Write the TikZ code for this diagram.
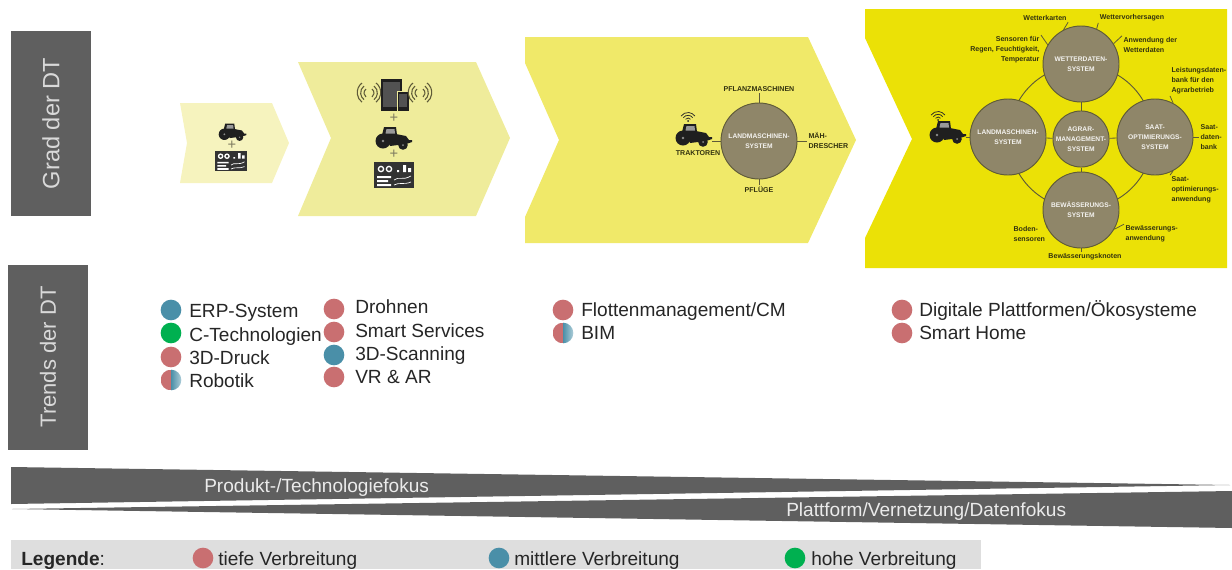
\documentclass[tikz,border=0pt]{standalone}
\usepackage{fontspec}
\setmainfont{Liberation Sans}
\usetikzlibrary{calc}
\definecolor{balken}{HTML}{5F5F5F}
\definecolor{stufeA}{HTML}{F6F3BE}
\definecolor{stufeB}{HTML}{EFEC9B}
\definecolor{stufeC}{HTML}{F0E969}
\definecolor{stufeD}{HTML}{EBE106}
\definecolor{kreis}{HTML}{8F8669}
\definecolor{kreisrand}{HTML}{5E5A38}
\definecolor{schrift}{HTML}{33330F}
\definecolor{tief}{HTML}{C96F71}
\definecolor{mittel}{HTML}{4A8FA8}
\definecolor{hoch}{HTML}{00B050}
\begin{document}
\begin{tikzpicture}[x=.75pt,y=-.75pt,
    greybox/.style={fill=balken,text=white!85!black,rotate=90,minimum width=138.75pt,minimum height=60pt,inner sep=0pt},
    bullet/.style={circle,minimum size=15.5pt,inner sep=0pt},
    halfbullet/.style={bullet,path picture={
      \fill[tief] (path picture bounding box.south west) rectangle (path picture bounding box.north);
      \shade[left color=mittel,right color=mittel!45!white] (path picture bounding box.south) rectangle (path picture bounding box.north east);}},
    trend/.style={anchor=west,inner sep=0pt,text height=9.5pt,text depth=0pt,font=\fontsize{14.3}{16}\selectfont,text=black!85},
    fokus/.style={anchor=west,inner sep=0pt,text height=9.5pt,text depth=0pt,text=white!92!black,font=\fontsize{14.3}{16}\selectfont},
    system/.style={circle,fill=kreis,draw=kreisrand,line width=.7pt,inner sep=0pt,align=center,text=white!90!kreis,font=\fontsize{5}{7.5}\bfseries\selectfont},
    big/.style={system,minimum size=57pt},
    hub/.style={system,minimum size=42pt},
    tag/.style={inner sep=1pt,text=schrift,font=\fontsize{5.3}{7.5}\bfseries\selectfont},
    tick/.style={kreisrand,line width=.6pt},
    pics/traktor/.style={code={
      \fill[black!88] (-9,-4) -- (3,-4) -- (13,-2) -- (16,2) -- (19,2) -- (19,4) -- (13,6) -- (-3,8) -- cycle;
      \fill[black!88] (-11,-3) -- (-9,-11) -- (3,-11) -- (4,-3) -- cycle;
      \fill[white,opacity=.55] (-7.5,-4.5) -- (-6.5,-9) -- (1.5,-9) -- (2,-4.5) -- cycle;
      \fill[black!88] (-10,3) circle (7.5);
      \fill[black!88] (10,7) circle (4.8);
      \fill[black!45] (-10,3) circle (1.3);
      \fill[black!45] (10,7) circle (1);}},
    pics/funk/.style={code={
      \fill[black!85] (0,0) circle (1);
      \draw[black!85,line width=.55pt] (0,0) ++(215:3) arc (215:325:3);
      \draw[black!85,line width=.55pt] (0,0) ++(215:5.7) arc (215:325:5.7);
      \draw[black!85,line width=.55pt] (0,0) ++(215:8.5) arc (215:325:8.5);}},
    pics/wellen/.style={code={
      \draw[kreisrand,line width=.8pt] (-3,-4) arc (233:127:5);
      \draw[kreisrand,line width=.8pt] (-5,-7) arc (233:127:8.5);
      \draw[kreisrand,line width=.8pt] (-7,-10) arc (233:127:12);
      \draw[kreisrand,line width=.8pt] (3,-4) arc (-53:53:5);
      \draw[kreisrand,line width=.8pt] (5,-7) arc (-53:53:8.5);
      \draw[kreisrand,line width=.8pt] (7,-10) arc (-53:53:12);}},
    pics/anzeige/.style={code={
      \fill[black!80] (-20,-13) rectangle (20,13);
      \draw[white,line width=1pt] (-13,-6) circle (2.6) (-5,-6) circle (2.6);
      \fill[white] (3,-5) rectangle (5,-3) (9,-10) rectangle (12,-3) (14,-7) rectangle (17,-3);
      \fill[white] (-17,1) rectangle (-3,3) (-17,5) rectangle (-6,7) (-17,9) rectangle (-3,11);
      \draw[white,line width=.5pt] (0,5) .. controls (5,1) and (8,6) .. (17,1);
      \draw[white,line width=.5pt] (0,10) .. controls (5,7) and (10,10) .. (17,7);}},
    plus/.style={inner sep=0pt,text=kreisrand!80,font=\fontsize{11}{11}\selectfont}]
  \useasboundingbox (0,0) rectangle (1232,569);
  % left headers
  \node[greybox] (grad) at (51,123.5) {\fontsize{17.7}{20}\selectfont Grad der DT};
  \node[greybox] (trends) at (48,357) {\fontsize{16.5}{20}\selectfont Trends der DT\hspace{12pt}};
  % chevrons
  \fill[stufeA] (180,103) -- (272,103) -- (289,143) -- (272,183) -- (180,183) -- (187,143) -- cycle;
  \fill[stufeB] (298,62) -- (476,62) -- (510,138) -- (476,216) -- (298,216) -- (331,138) -- cycle;
  \fill[stufeC] (525,37) -- (808,37) -- (856,140) -- (808,243) -- (525,243) -- (525,217) -- (559,140) -- (525,63) -- cycle;
  \fill[stufeD] (865,9) -- (1227,9) -- (1227,268) -- (865,268) -- (865,238) -- (912,139) -- (865,38) -- cycle;
  % first step
  \pic[scale=.76] at (232,132) {traktor};
  \node[plus] (plusA) at (232,145) {+};
  \pic[scale=.8] at (231,161) {anzeige};
  % second step
  \fill[black!88] (381,79) rectangle (402,111);
  \fill[black!68] (383,82) rectangle (400,107);
  \fill[black!88] (397,91) rectangle (409,111);
  \draw[stufeB,line width=.4pt] (397,91) rectangle (409,111);
  \fill[black!68] (399,94) rectangle (407,107);
  \pic at (369,93) {wellen};
  \pic at (420,93) {wellen};
  \node[plus] (plusB) at (394,118) {+};
  \pic at (393,138) {traktor};
  \node[plus] (plusC) at (394,154) {+};
  \pic at (394,175) {anzeige};
  % third step
  \pic at (693,135) {traktor};
  \pic at (688,121) {funk};
  \node[big] (land) at (759,141) {LANDMASCHINEN-\\SYSTEM};
  \node[tag] (traktoren) at (698,153) {TRAKTOREN};
  \node[tag] (pflanz) at (759,89) {PFLANZMASCHINEN};
  \node[tag,align=left,anchor=west] (maeh) at (807,141) {MÄH-\\DRESCHER};
  \node[tag] (pfluege) at (759,190) {PFLÜGE};
  \coordinate (traktorA) at (712,141);
  \draw[tick] (land) -- (traktorA);
  \draw[tick] (land) -- (pflanz);
  \draw[tick] (land) -- (maeh);
  \draw[tick] (land) -- (pfluege);
  % fourth step
  \pic at (947,132) {traktor};
  \pic at (938,120) {funk};
  \node[circle,draw=kreisrand,line width=.7pt,minimum size=108pt,inner sep=0pt] (ring) at (1081,137) {};
  \node[big] (wetter) at (1081,64) {WETTERDATEN-\\SYSTEM};
  \node[big] (maschinen) at (1008,137) {LANDMASCHINEN-\\SYSTEM};
  \node[big] (saat) at (1155,137) {SAAT-\\OPTIMIERUNGS-\\SYSTEM};
  \node[big] (wasser) at (1081,210) {BEWÄSSERUNGS-\\SYSTEM};
  \node[hub] (agrar) at (1081,139) {AGRAR-\\MANAGEMENT-\\SYSTEM};
  \draw[tick] (agrar) -- (wetter);
  \draw[tick] (agrar) -- (maschinen);
  \draw[tick] (agrar) -- (saat);
  \draw[tick] (agrar) -- (wasser);
  \coordinate (traktorB) at (966,137);
  \draw[tick] (maschinen) -- (traktorB);
  \node[tag] (karten) at (1045,18) {Wetterkarten};
  \node[tag] (vorhersagen) at (1132,18) {Wettervorhersagen};
  \node[tag,align=right,anchor=east] (sensoren) at (1041,50) {Sensoren für\\Regen, Feuchtigkeit,\\Temperatur};
  \node[tag,align=left,anchor=west] (anwendung) at (1122,45) {Anwendung der\\Wetterdaten};
  \node[tag,align=left,anchor=west] (leistung) at (1170,81) {Leistungsdaten-\\bank für den\\Agrarbetrieb};
  \node[tag,align=left,anchor=west] (datenbank) at (1199,137) {Saat-\\daten-\\bank};
  \node[tag,align=left,anchor=west] (saatanw) at (1170,190) {Saat-\\optimierungs-\\anwendung};
  \node[tag,align=left,anchor=west] (boden) at (1012,234) {Boden-\\sensoren};
  \node[tag,align=left,anchor=west] (wasseranw) at (1124,234) {Bewässerungs-\\anwendung};
  \node[tag] (knoten) at (1085,257) {Bewässerungsknoten};
  \draw[tick] (wetter.117) -- (karten.south east);
  \draw[tick] (wetter.66) -- (vorhersagen.south west);
  \draw[tick] (wetter.150) -- (sensoren.north east);
  \draw[tick] (wetter.32) -- (anwendung.north west);
  \draw[tick] (saat.62) -- (leistung.south west);
  \draw[tick] (saat) -- (datenbank);
  \draw[tick] (saat.-62) -- (saatanw.north west);
  \draw[tick] (wasser.208) -- (boden.north east);
  \draw[tick] (wasser.-30) -- (wasseranw.north west);
  \draw[tick] (wasser.south) -- (knoten.north -| wasser.south);
  % trends
  \node[bullet,fill=mittel] (erpdot) at (171,310) {};
  \node[bullet,fill=hoch] (cdot) at (171,333) {};
  \node[bullet,fill=tief] (druckdot) at (171,357) {};
  \node[halfbullet] (robotikdot) at (171,380) {};
  \node[trend] (erp) at (189,311) {ERP-System};
  \node[trend] (ctech) at (189,335) {C-Technologien};
  \node[trend] (druck) at (189,358) {3D-Druck};
  \node[trend] (robotik) at (189,381) {Robotik};
  \node[bullet,fill=tief] (drohnendot) at (334,309) {};
  \node[bullet,fill=tief] (smartdot) at (334,332) {};
  \node[bullet,fill=mittel] (scandot) at (334,355) {};
  \node[bullet,fill=tief] (vrdot) at (334,377) {};
  \node[trend] (drohnen) at (355,307) {Drohnen};
  \node[trend] (smart) at (355,331) {Smart Services};
  \node[trend] (scan) at (355,354) {3D-Scanning};
  \node[trend] (vr) at (355,377) {VR \& AR};
  \node[bullet,fill=tief] (flottedot) at (563,310) {};
  \node[halfbullet] (bimdot) at (563,333) {};
  \node[trend] (flotte) at (581,310) {Flottenmanagement/CM};
  \node[trend] (bim) at (581,333) {BIM};
  \node[bullet,fill=tief] (plattformdot) at (902,310) {};
  \node[bullet,fill=tief] (homedot) at (902,333) {};
  \node[trend] (plattform) at (919,310) {Digitale Plattformen/Ökosysteme};
  \node[trend] (home) at (919,333) {Smart Home};
  % focus wedges
  \fill[balken] (11,467) -- (1230,485) -- (11,504) -- cycle;
  \fill[balken] (12,509) -- (1232,491) -- (1232,528) -- cycle;
  \node[fokus] (produkt) at (204,486) {Produkt-/Technologiefokus};
  \node[fokus] (vernetzung) at (786,510) {Plattform/Vernetzung/Datenfokus};
  % legend
  \fill[black!13] (11,540) rectangle (981,569);
  \node[trend] (legende) at (21,559) {\textbf{Legende}:};
  \node[bullet,fill=tief] (tiefdot) at (203,558) {};
  \node[trend] (tieftext) at (218,559) {tiefe Verbreitung};
  \node[bullet,fill=mittel] (mitteldot) at (499,558) {};
  \node[trend] (mitteltext) at (514,559) {mittlere Verbreitung};
  \node[bullet,fill=hoch] (hochdot) at (795,558) {};
  \node[trend] (hochtext) at (811,559) {hohe Verbreitung};
\end{tikzpicture}
\end{document}
